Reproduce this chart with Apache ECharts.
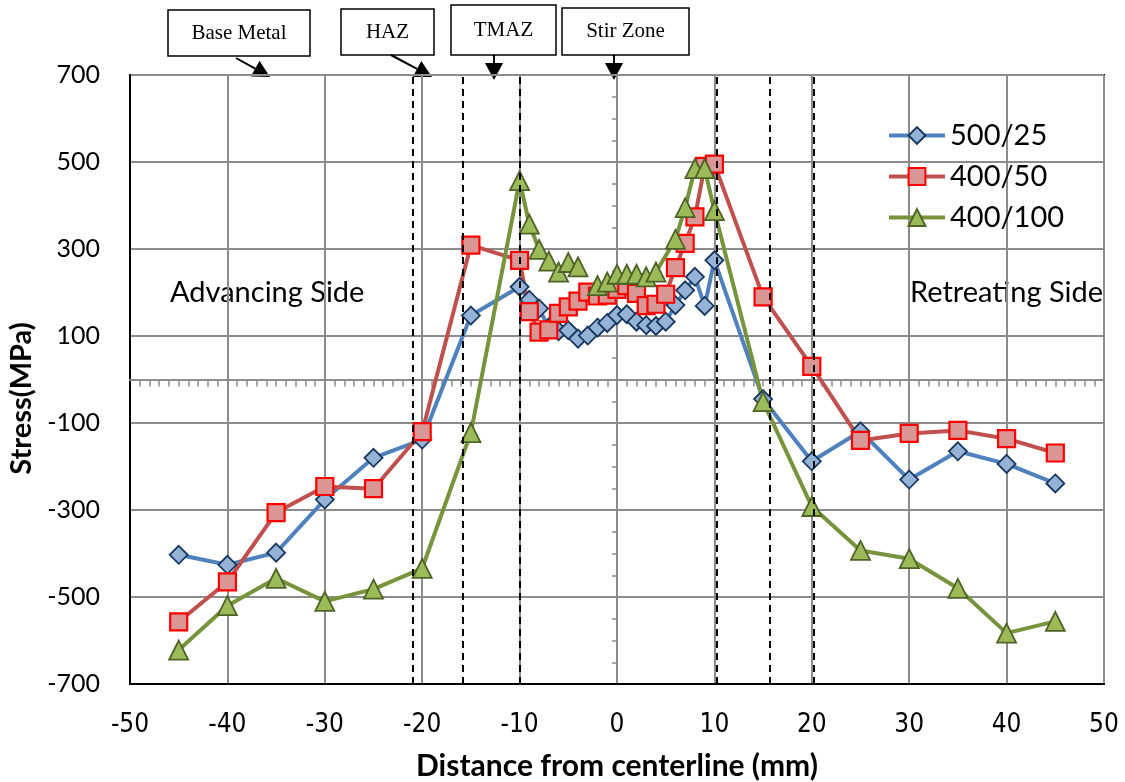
<!DOCTYPE html>
<html>
<head>
<meta charset="utf-8">
<script src="https://cdn.jsdelivr.net/npm/echarts@6/dist/echarts.min.js"></script>
<style>html,body{margin:0;padding:0;background:#fff;}#c{width:1125px;height:782px;}</style>
</head>
<body>
<div id="c"></div>
<script>
// ---- data ----
const seriesNames = ['500/25', '400/50', '400/100'];
const xBlue = [-45,-40,-35,-30,-25,-20,-15,-10,-9,-8,-7,-6,-5,-4,-3,-2,-1,0,1,2,3,4,5,6,7,8,9,10,15,20,25,30,35,40,45];
const yBlue = [-403,-426,-398,-276,-180,-138,147,213,183,163,120,111,113,94,101,119,130,148,150,133,125,123,133,171,205,236,169,274,-45,-188,-119,-230,-165,-194,-239];
const xRed = [-45,-40,-35,-30,-25,-20,-15,-10,-9,-8,-7,-6,-5,-4,-3,-2,-1,0,1,2,3,4,5,6,7,8,9,10,15,20,25,30,35,40,45];
const yRed = [-557,-465,-306,-246,-251,-120,309,274,156,109,114,152,167,180,201,192,194,207,216,198,170,173,196,257,313,374,490,495,190,30,-140,-124,-117,-136,-169];
const xGreen = [-45,-40,-35,-30,-25,-20,-15,-10,-9,-8,-7,-6,-5,-4,-3,-2,-1,0,1,2,3,4,6,7,8,9,10,15,20,25,30,35,40,45];
const yGreen = [-622,-520,-457,-510,-482,-434,-122,457,357,299,272,247,269,259,null,216,224,242,242,242,236,247,322,395,485,485,388,-51,-292,-393,-412,-480,-583,-556];
const zoneBoundaries = [-21, -15.8, -10, 10.2, 15.7, 20.2];
const xTicks = {min: -50, max: 50, interval: 10};
const yTicks = {min: -700, max: 700, interval: 200};
const zoneLabels = ['Base Metal', 'HAZ', 'TMAZ', 'Stir Zone'];
const sideLabels = ['Advancing Side', 'Retreating Side'];

const pair = (xs, ys) => xs.map((x, i) => [x, ys[i] === null ? '-' : ys[i]]);
const GRID = '#8c8c8c';
const sans = 'Lato, "Open Sans", sans-serif';

const chart = echarts.init(document.getElementById('c'), null, {renderer: 'canvas'});

function box(x, y, w, h, label) {
  return {
    type: 'group', children: [
      {type: 'rect', shape: {x: x, y: y, width: w, height: h}, style: {fill: '#fff', stroke: '#000', lineWidth: 1.5}},
      {type: 'text', x: x + w / 2, y: y + h / 2, style: {text: label, fill: '#000', font: '21px "Liberation Serif", serif', align: 'center', verticalAlign: 'middle'}}
    ]
  };
}
function arrow(x1, y1, x2, y2) {
  const dx = x2 - x1, dy = y2 - y1, len = Math.sqrt(dx * dx + dy * dy);
  const ux = dx / len, uy = dy / len, hl = 17, hw = 9;
  const bx = x2 - ux * hl, by = y2 - uy * hl;
  return {
    type: 'group', children: [
      {type: 'line', shape: {x1: x1, y1: y1, x2: bx, y2: by}, style: {stroke: '#000', lineWidth: 2}},
      {type: 'polygon', shape: {points: [[x2, y2], [bx - uy * hw, by + ux * hw], [bx + uy * hw, by - ux * hw]]}, style: {fill: '#000'}}
    ]
  };
}

const option = {
  animation: false,
  backgroundColor: '#fff',
  grid: {left: 130, right: 21, top: 75, bottom: 98, containLabel: false, outerBoundsMode: 'none',
         show: true, borderColor: '#000', borderWidth: 2, backgroundColor: 'transparent'},
  legend: {
    orient: 'vertical', left: 882, top: 116, itemWidth: 56, itemHeight: 21, itemGap: 12,
    data: seriesNames,
    lineStyle: {width: 4},
    textStyle: {fontFamily: sans, fontSize: 29, color: '#000'}
  },
  xAxis: [{
    type: 'value', min: xTicks.min, max: xTicks.max, interval: xTicks.interval, position: 'bottom',
    axisLine: {onZero: false, lineStyle: {color: '#000', width: 2}},
    axisTick: {show: false},
    axisLabel: {fontFamily: '"Liberation Sans Narrow", "DejaVu Sans Condensed", sans-serif', fontSize: 26, color: '#000', margin: 28},
    splitLine: {show: true, lineStyle: {color: GRID, width: 2}},
    name: 'Distance from centerline (mm)', nameLocation: 'middle', nameGap: 67,
    nameTextStyle: {fontFamily: sans, fontWeight: 'bold', fontSize: 30, color: '#000'}
  }, {
    type: 'value', min: xTicks.min, max: xTicks.max, interval: xTicks.interval, position: 'bottom',
    axisLine: {onZero: true, lineStyle: {color: GRID, width: 2}},
    axisTick: {show: false},
    minorTick: {show: true, splitNumber: 10, length: 7, lineStyle: {color: GRID, width: 1.5}},
    axisLabel: {show: false}, splitLine: {show: false}
  }],
  yAxis: [{
    type: 'value', min: yTicks.min, max: yTicks.max, interval: yTicks.interval, position: 'left',
    axisLine: {onZero: false, lineStyle: {color: '#000', width: 2}},
    axisTick: {show: false},
    axisLabel: {fontFamily: sans, fontSize: 25, color: '#000', margin: 30},
    splitLine: {show: true, lineStyle: {color: GRID, width: 2}},
    name: 'Stress(MPa)', nameLocation: 'middle', nameRotate: 90, nameGap: 88,
    nameTextStyle: {fontFamily: sans, fontWeight: 'bold', fontSize: 29, color: '#000', padding: [0, 38, 0, 0]}
  }, {
    type: 'value', min: yTicks.min, max: yTicks.max, interval: yTicks.interval, position: 'left',
    axisLine: {onZero: true, lineStyle: {color: GRID, width: 2}},
    axisTick: {show: false},
    minorTick: {show: true, splitNumber: 4, length: 5, lineStyle: {color: GRID, width: 1.5}},
    axisLabel: {show: false}, splitLine: {show: false}
  }],
  series: [{
    name: seriesNames[0], type: 'line', data: pair(xBlue, yBlue),
    symbol: 'diamond', symbolSize: 18,
    lineStyle: {color: '#4f81bd', width: 4},
    itemStyle: {color: '#95b3d7', borderColor: '#17375e', borderWidth: 1.8},
    markLine: {
      silent: true, symbol: 'none', label: {show: false},
      lineStyle: {color: '#000', type: [7, 5], width: 2},
      data: zoneBoundaries.map(v => ({xAxis: v}))
    }
  }, {
    name: seriesNames[1], type: 'line', data: pair(xRed, yRed),
    symbol: 'rect', symbolSize: 17,
    lineStyle: {color: '#c0504d', width: 4},
    itemStyle: {color: '#d99694', borderColor: '#ff0000', borderWidth: 2.2}
  }, {
    name: seriesNames[2], type: 'line', data: pair(xGreen, yGreen),
    symbol: 'triangle', symbolSize: 19, connectNulls: false,
    lineStyle: {color: '#77933c', width: 4},
    itemStyle: {color: '#9bbb59', borderColor: '#4f6228', borderWidth: 1.8}
  }],
  graphic: [
    box(168, 10, 142, 46, zoneLabels[0]),
    box(341, 9, 93, 46, zoneLabels[1]),
    box(451, 5, 105, 50, zoneLabels[2]),
    box(562, 8, 127, 47, zoneLabels[3]),
    arrow(236, 58, 270, 77),
    arrow(391, 55, 432, 77),
    arrow(494, 55, 494, 80),
    arrow(614, 55, 614, 80),
    {type: 'text', x: 170, y: 293, style: {text: sideLabels[0], fill: '#000', font: '29px ' + sans, verticalAlign: 'middle'}},
    {type: 'text', x: 1103, y: 293, style: {text: sideLabels[1], fill: '#000', font: '29px ' + sans, align: 'right', verticalAlign: 'middle'}}
  ]
};
chart.setOption(option);
</script>
</body>
</html>
